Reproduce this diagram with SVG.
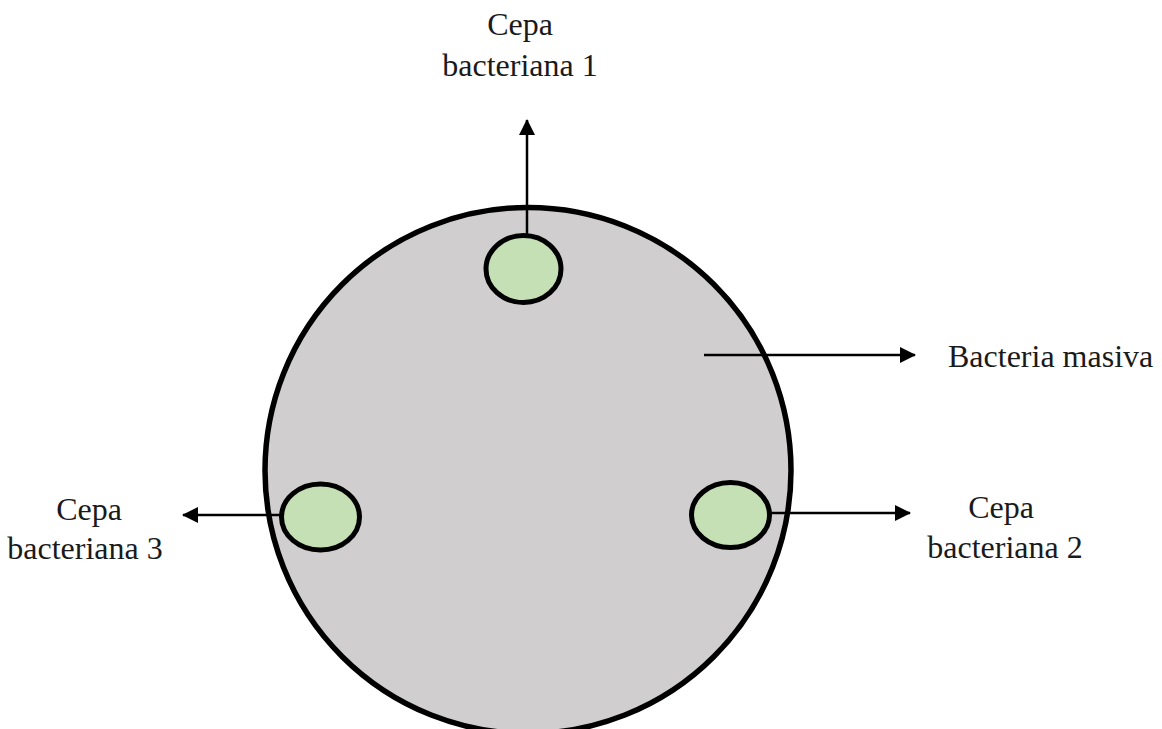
<svg xmlns="http://www.w3.org/2000/svg" width="1162" height="729" viewBox="0 0 1162 729">
<style>
.lbl{font-family:"Liberation Serif","Times New Roman",serif;font-size:32px;fill:#1a1a1a}
.c{text-anchor:middle}
.spot{fill:#C5E0B4;stroke:#000;stroke-width:5}
.conn{stroke:#000;stroke-width:2.5;fill:none;marker-end:url(#ah)}
</style>
<defs>
<marker id="ah" markerUnits="userSpaceOnUse" markerWidth="18" markerHeight="18" refX="15" refY="8" orient="auto">
<path d="M0,0 L16,8 L0,16 z" fill="#000"/>
</marker>
</defs>
<rect width="1162" height="729" fill="#fff"/>
<g id="plate">
<circle cx="528" cy="470.5" r="263" fill="#D0CECE" stroke="#000" stroke-width="5.5"/>
</g>
<g id="connectors">
<line class="conn" x1="527" y1="236" x2="527" y2="120"/>
<line class="conn" x1="704" y1="355" x2="915" y2="355"/>
<line class="conn" x1="770" y1="513" x2="910" y2="513"/>
<line class="conn" x1="281" y1="515" x2="183" y2="515"/>
</g>
<g id="strain1">
<ellipse class="spot" cx="523.5" cy="269" rx="37.5" ry="33.5"/>
<text class="lbl c" x="520" y="35">Cepa</text>
<text class="lbl c" x="520" y="76">bacteriana 1</text>
</g>
<g id="strain2">
<ellipse class="spot" cx="730.5" cy="515" rx="39" ry="32.5"/>
<text class="lbl c" x="1001" y="518">Cepa</text>
<text class="lbl c" x="1005" y="558">bacteriana 2</text>
</g>
<g id="strain3">
<ellipse class="spot" cx="320.5" cy="517" rx="39" ry="33"/>
<text class="lbl c" x="89" y="520">Cepa</text>
<text class="lbl c" x="85" y="559">bacteriana 3</text>
</g>
<g id="mass">
<text class="lbl" x="948" y="367">Bacteria masiva</text>
</g>
</svg>
